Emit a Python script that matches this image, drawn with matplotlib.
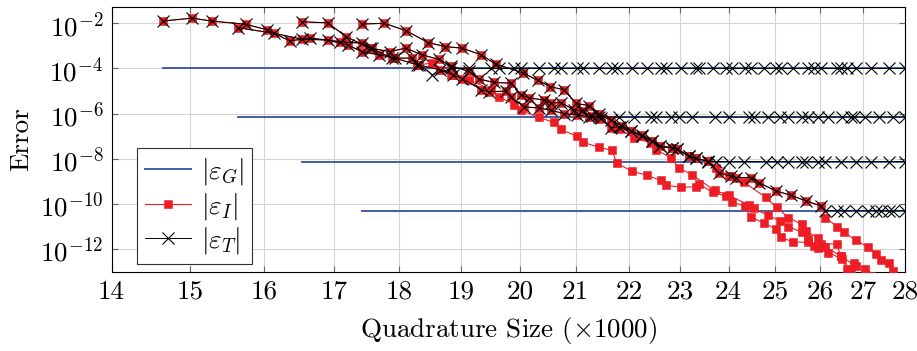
import numpy as np
import matplotlib
matplotlib.use("Agg")
import matplotlib.pyplot as plt
from matplotlib.ticker import NullLocator

FS = 19.5

plt.rcParams.update({
    "font.family": "serif",
    "font.serif": ["cmr10", "DejaVu Serif"],
    "mathtext.fontset": "cm",
    "axes.formatter.use_mathtext": True,
    "font.size": FS,
})

# Quadrature size (x1000) and log10 of the error.
# Four runs, each with its own (constant) geometric error level.
X_A = [14.64, 15.02, 15.28, 15.74, 16.03, 16.36, 16.65, 17.09, 17.42, 17.57,
       17.88, 18.21, 18.32, 18.53, 18.84, 19.14, 19.51, 19.64, 19.90, 20.02,
       20.34, 20.61, 20.73, 21.03, 21.14, 21.43, 21.68, 21.77, 22.06, 22.35,
       22.62, 22.72, 23.02, 23.32, 23.39, 23.67, 23.94, 24.07, 24.34, 24.47,
       24.75, 25.01, 25.12, 25.38, 25.72, 25.85, 26.03, 26.38, 26.47, 26.61,
       26.82, 27.19, 27.62, 28.00]
LOG_I_A = [-1.90, -1.77, -1.90, -2.04, -2.28, -2.78, -2.65, -2.81, -2.88, -3.10,
           -3.54, -3.54, -3.84, -3.75, -4.28, -4.50, -4.95, -5.25, -5.60, -5.86,
           -6.17, -6.39, -6.70, -7.01, -7.27, -7.49, -7.63, -8.20, -8.55, -8.73,
           -8.95, -9.17, -9.26, -9.24, -9.12, -9.48, -9.65, -9.92, -10.09, -10.58,
           -10.84, -11.11, -11.46, -11.68, -11.70, -11.85, -11.77, -11.77, -12.30, -12.87,
           -13.40, -13.50, -13.60, -13.70]
LOG_T_A = [-1.90, -1.77, -1.90, -2.04, -2.28, -2.78, -2.65, -2.81, -2.88, -3.10,
           -3.54, -3.54, -3.84, -4.28, -4.00, -4.00, -4.00, -4.00, -4.00, -4.00,
           -4.00, -4.00, -4.00, -4.00, -4.00, -4.00, -4.00, -4.00, -4.00, -4.00,
           -4.00, -4.00, -4.00, -4.00, -4.00, -4.00, -4.00, -4.00, -4.00, -4.00,
           -4.00, -4.00, -4.00, -4.00, -4.00, -4.00, -4.00, -4.00, -4.00, -4.00,
           -4.00, -4.00, -4.00, -4.00]

X_B = [15.63, 16.13, 16.53, 16.91, 17.21, 17.42, 17.69, 17.93, 18.29, 18.66,
       18.86, 19.02, 19.34, 19.47, 19.76, 19.85, 20.08, 20.34, 20.55, 20.79,
       21.03, 21.25, 21.43, 21.81, 22.10, 22.43, 22.53, 22.82, 22.98, 23.24,
       23.71, 24.01, 24.43, 24.53, 24.84, 25.10, 25.29, 25.58, 25.72, 25.96,
       26.19, 26.51, 26.70, 26.77, 27.05, 27.36, 27.72, 28.00]
LOG_I_B = [-2.19, -2.44, -2.70, -2.74, -2.96, -3.25, -3.40, -3.54, -3.84, -4.06,
           -4.28, -4.45, -4.94, -5.03, -5.00, -5.28, -5.70, -5.75, -5.85, -6.00,
           -6.05, -6.15, -6.25, -6.68, -7.07, -7.30, -7.60, -7.95, -8.40, -8.70,
           -9.40, -9.62, -10.05, -10.20, -10.50, -10.75, -11.00, -11.25, -11.55, -11.95,
           -12.15, -12.45, -12.95, -12.60, -12.87, -13.30, -13.50, -13.60]
LOG_T_B = [-2.19, -2.44, -2.70, -2.74, -2.96, -3.25, -3.40, -3.54, -3.84, -4.06,
           -4.28, -4.45, -4.94, -5.03, -5.00, -5.28, -5.70, -5.75, -5.85, -6.00,
           -6.05, -6.15, -6.15, -6.15, -6.15, -6.15, -6.15, -6.15, -6.15, -6.15,
           -6.15, -6.15, -6.15, -6.15, -6.15, -6.15, -6.15, -6.15, -6.15, -6.15,
           -6.15, -6.15, -6.15, -6.15, -6.15, -6.15, -6.15, -6.15]

X_C = [16.53, 16.91, 17.19, 17.55, 17.85, 18.10, 18.37, 18.64, 18.84, 19.14,
       19.30, 19.56, 19.85, 20.02, 20.16, 20.43, 20.55, 20.73, 20.97, 21.12,
       21.30, 21.47, 21.66, 21.81, 22.04, 22.25, 22.45, 22.60, 22.84, 22.94,
       23.18, 23.32, 23.57, 23.74, 24.01, 24.32, 24.79, 25.03, 25.29, 25.58,
       25.67, 25.96, 26.12, 26.47, 26.82, 27.19, 27.62, 28.00]
LOG_I_C = [-1.93, -1.98, -2.60, -3.10, -3.25, -3.10, -3.40, -3.60, -3.90, -4.13,
           -4.47, -4.62, -4.65, -5.16, -5.30, -5.40, -5.52, -5.52, -5.82, -5.90,
           -6.10, -6.18, -6.63, -6.58, -6.78, -7.00, -7.22, -7.45, -7.52, -7.56,
           -7.88, -7.98, -8.10, -8.40, -8.76, -9.03, -9.70, -10.15, -10.60, -10.90,
           -11.20, -11.50, -11.90, -12.30, -12.75, -13.20, -13.50, -13.60]
LOG_T_C = [-1.93, -1.98, -2.60, -3.10, -3.25, -3.10, -3.40, -3.60, -3.90, -4.13,
           -4.47, -4.62, -4.65, -5.16, -5.30, -5.40, -5.52, -5.52, -5.82, -5.90,
           -6.10, -6.18, -6.63, -6.58, -6.78, -7.00, -7.22, -7.45, -7.52, -7.56,
           -7.88, -7.98, -8.12, -8.12, -8.12, -8.12, -8.12, -8.12, -8.12, -8.12,
           -8.12, -8.12, -8.12, -8.12, -8.12, -8.12, -8.12, -8.12]

X_D = [17.42, 17.77, 18.11, 18.46, 18.74, 19.02, 19.34, 19.58, 20.06, 20.32,
       20.54, 20.79, 21.01, 21.25, 21.43, 21.66, 21.87, 22.04, 22.25, 22.45,
       22.60, 22.84, 22.94, 23.18, 23.32, 23.57, 23.80, 24.05, 24.15, 24.47,
       24.64, 25.01, 25.34, 25.67, 26.01, 26.12, 26.38, 26.54, 26.82, 27.10,
       27.29, 27.41, 27.62, 27.72, 28.00]
LOG_I_D = [-2.03, -2.00, -2.33, -2.85, -3.03, -3.10, -3.40, -3.80, -4.20, -4.53,
           -4.80, -4.95, -5.55, -5.64, -6.00, -6.30, -6.55, -6.75, -6.95, -7.20,
           -7.45, -7.50, -7.55, -7.88, -7.98, -8.10, -8.61, -8.78, -8.83, -8.83,
           -9.05, -9.42, -9.61, -9.86, -10.08, -10.60, -11.00, -11.25, -11.60, -11.90,
           -12.20, -12.50, -12.60, -12.95, -13.40]
LOG_T_D = [-2.03, -2.00, -2.33, -2.85, -3.03, -3.10, -3.40, -3.80, -4.20, -4.53,
           -4.80, -4.95, -5.55, -5.64, -6.00, -6.30, -6.55, -6.75, -6.95, -7.20,
           -7.45, -7.50, -7.55, -7.88, -7.98, -8.10, -8.61, -8.78, -8.83, -8.83,
           -9.05, -9.42, -9.61, -9.86, -10.08, -10.30, -10.30, -10.30, -10.30, -10.30,
           -10.30, -10.30, -10.30, -10.30, -10.30]

# geometric error of each run (constant)
LOG_G = [-4.0, -6.15, -8.12, -10.3]

XTICKS = list(range(14, 29))
YTICK_EXP = [-2, -4, -6, -8, -10, -12]

BLUE = "#3352a3"
RED = "#ee1d25"

runs = [
    (X_A, LOG_I_A, LOG_T_A),
    (X_B, LOG_I_B, LOG_T_B),
    (X_C, LOG_I_C, LOG_T_C),
    (X_D, LOG_I_D, LOG_T_D),
]

fig = plt.figure(figsize=(9.17, 3.51), dpi=100)
ax = fig.add_axes([0.1216, 0.2259, 0.8653, 0.7533])
ax.set_xscale("log")
ax.set_yscale("log")

for i, ((x, _, _), g) in enumerate(zip(runs, LOG_G)):
    ax.plot(x, np.full(len(x), 10.0 ** g), color=BLUE, lw=1.3,
            label=r"$|\varepsilon_G|$" if i == 0 else "_nolegend_", zorder=3)
for i, (x, log_i, _) in enumerate(runs):
    ax.plot(x, 10.0 ** np.array(log_i), color=RED, lw=0.8, marker="s", ms=5.3,
            mfc=RED, mec=RED, mew=0.4,
            label=r"$|\varepsilon_I|$" if i == 0 else "_nolegend_", zorder=4)
for i, (x, _, log_t) in enumerate(runs):
    ax.plot(x, 10.0 ** np.array(log_t), color="black", lw=0.7, marker="x", ms=8.5,
            mew=0.8, label=r"$|\varepsilon_T|$" if i == 0 else "_nolegend_", zorder=5)

ax.set_xlim(14, 28)
ax.set_ylim(10.0 ** -13.0, 10.0 ** -1.29)
ax.set_xticks(XTICKS, labels=[str(t) for t in XTICKS])
ax.set_yticks([10.0 ** e for e in YTICK_EXP],
              labels=[r"$10^{%d}$" % e for e in YTICK_EXP])
ax.xaxis.set_minor_locator(NullLocator())
ax.yaxis.set_minor_locator(NullLocator())

ax.grid(True, which="major", color="#d4d4d4", lw=0.8, zorder=0)
ax.set_axisbelow(True)
ax.tick_params(which="major", direction="in", length=4, width=0.8,
               color="#666666", top=True, right=True, labelsize=FS)
ax.tick_params(axis="x", pad=6)
ax.tick_params(axis="y", pad=6)
for sp in ax.spines.values():
    sp.set_linewidth(0.8)
    sp.set_color("black")

ax.set_xlabel(r"Quadrature Size ($\times$1000)", fontsize=FS)
ax.set_ylabel("Error", fontsize=FS)
ax.xaxis.set_label_coords(0.5, -0.165)
ax.yaxis.set_label_coords(-0.099, 0.5)

leg = ax.legend(loc="lower left", bbox_to_anchor=(0.032, 0.029), borderaxespad=0,
                fancybox=False, framealpha=1, edgecolor="#333333",
                handlelength=1.7, numpoints=1, fontsize=FS,
                labelspacing=0.12, borderpad=0.3, handletextpad=0.35)
leg.get_frame().set_linewidth(0.8)

fig.savefig("out.png", dpi=100)
